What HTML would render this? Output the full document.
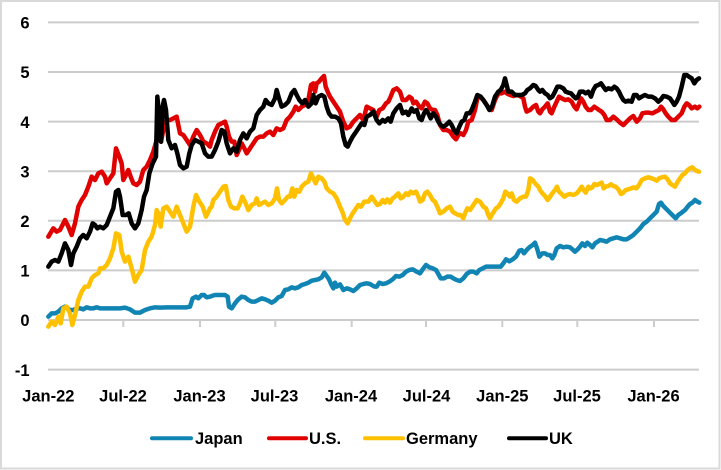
<!DOCTYPE html>
<html><head><meta charset="utf-8"><style>
html,body{margin:0;padding:0;background:#fff;}
svg{display:block;}
text{font-family:"Liberation Sans",Arial,sans-serif;font-weight:bold;font-size:16.5px;fill:#000;}
</style></head><body>
<svg width="721" height="470" viewBox="0 0 721 470" xmlns="http://www.w3.org/2000/svg">
<rect x="0" y="0" width="721" height="470" fill="#fff"/>
<rect x="1" y="1" width="718.5" height="467.5" fill="none" stroke="#d9d9d9" stroke-width="2"/>
<g stroke="#cccccc" stroke-width="2">
<line x1="48" y1="22.4" x2="699" y2="22.4"/>
<line x1="48" y1="72" x2="699" y2="72"/>
<line x1="48" y1="121.6" x2="699" y2="121.6"/>
<line x1="48" y1="171.2" x2="699" y2="171.2"/>
<line x1="48" y1="220.8" x2="699" y2="220.8"/>
<line x1="48" y1="270.4" x2="699" y2="270.4"/>
<line x1="48" y1="369.6" x2="699" y2="369.6"/>
<line x1="48" y1="320" x2="699" y2="320"/>
<line x1="123.3" y1="320" x2="123.3" y2="327"/>
<line x1="200" y1="320" x2="200" y2="327"/>
<line x1="275.3" y1="320" x2="275.3" y2="327"/>
<line x1="351.7" y1="320" x2="351.7" y2="327"/>
<line x1="426" y1="320" x2="426" y2="327"/>
<line x1="502.3" y1="320" x2="502.3" y2="327"/>
<line x1="577.3" y1="320" x2="577.3" y2="327"/>
<line x1="654" y1="320" x2="654" y2="327"/>
</g>
<g text-anchor="end">
<text x="29.5" y="28.6">6</text>
<text x="29.5" y="78.2">5</text>
<text x="29.5" y="127.8">4</text>
<text x="29.5" y="177.4">3</text>
<text x="29.5" y="227">2</text>
<text x="29.5" y="276.6">1</text>
<text x="29.5" y="326.2">0</text>
<text x="29.5" y="375.8">-1</text>
</g>
<g text-anchor="middle">
<text x="48.3" y="401.5">Jan-22</text>
<text x="123" y="401.5">Jul-22</text>
<text x="199.5" y="401.5">Jan-23</text>
<text x="274.5" y="401.5">Jul-23</text>
<text x="351" y="401.5">Jan-24</text>
<text x="426.5" y="401.5">Jul-24</text>
<text x="502.3" y="401.5">Jan-25</text>
<text x="577" y="401.5">Jul-25</text>
<text x="653.5" y="401.5">Jan-26</text>
</g>
<g fill="none" stroke-width="13.5" stroke-linejoin="round" stroke-linecap="round" transform="translate(40,60) scale(0.333333)">
<polyline stroke="#1085b4" points="25,770 35,760 45,760 55,755 65,745 75,740 90,750 100,750 110,745 120,745 130,748 140,742 150,745 160,745 170,742 180,745 200,745 220,745 240,745 255,743 270,748 285,758 300,758 315,750 330,745 345,742 360,743 380,742 400,742 420,742 440,742 450,740 458,715 468,710 475,715 485,705 492,705 500,712 510,710 515,708 525,705 535,705 545,705 555,705 563,710 567,740 575,745 585,730 595,718 605,710 615,712 625,720 635,725 645,725 655,720 665,715 675,718 685,722 695,728 705,722 715,712 725,708 735,690 745,688 755,682 765,685 775,682 785,675 795,672 805,668 815,662 825,660 835,658 845,652 853,638 860,648 867,658 873,672 880,685 885,668 890,680 900,673 910,690 920,685 930,688 940,693 950,685 960,675 970,672 980,670 990,672 1000,678 1005,680 1010,680 1018,668 1028,672 1038,670 1048,665 1058,658 1068,648 1078,650 1088,645 1098,635 1108,630 1118,628 1130,635 1140,640 1148,628 1158,615 1168,622 1178,625 1188,630 1195,642 1202,655 1212,655 1222,650 1232,650 1240,655 1250,660 1260,663 1270,655 1280,642 1290,635 1300,635 1310,640 1318,630 1328,625 1338,620 1348,620 1360,620 1370,620 1382,620 1390,610 1398,598 1408,604 1418,598 1428,590 1438,572 1445,570 1452,580 1460,570 1468,562 1478,555 1485,548 1492,568 1498,590 1507,580 1515,580 1523,585 1530,585 1537,595 1543,585 1550,565 1560,558 1570,562 1580,560 1590,562 1597,568 1605,575 1613,568 1620,560 1627,550 1635,558 1642,548 1650,555 1657,562 1665,550 1673,545 1680,540 1690,542 1700,545 1710,538 1720,535 1730,532 1740,535 1750,538 1760,538 1770,532 1780,525 1790,515 1800,505 1810,492 1820,485 1830,475 1840,465 1850,455 1857,432 1863,428 1870,438 1880,448 1890,458 1900,468 1907,475 1915,465 1925,458 1935,450 1943,440 1950,432 1957,428 1965,420 1972,425 1978,428"/>
<polyline stroke="#e00000" points="25,530 40,505 50,515 60,510 75,480 85,500 95,525 105,490 115,440 125,420 135,405 145,380 155,350 165,360 175,340 185,335 195,350 200,370 210,355 220,340 228,265 238,290 245,310 250,360 258,345 265,330 272,350 280,370 290,375 300,365 310,330 320,320 330,300 340,275 350,240 358,215 363,245 370,210 380,180 390,180 400,175 410,170 420,220 430,225 440,240 450,255 460,230 470,210 480,225 490,245 500,250 510,260 515,240 525,215 535,195 545,190 555,185 560,200 567,230 575,245 583,245 590,285 597,270 605,250 613,265 620,280 630,265 640,250 650,235 660,230 670,230 680,220 690,215 700,225 710,205 720,210 730,205 740,180 750,170 760,155 767,140 775,150 785,140 795,135 805,120 813,75 820,70 825,95 830,70 837,65 845,55 852,48 857,80 863,95 870,110 880,125 890,140 900,155 910,185 920,205 930,200 940,185 950,175 960,165 970,180 980,140 990,145 1000,150 1010,170 1018,150 1028,145 1038,130 1045,125 1052,110 1060,90 1070,85 1080,95 1088,120 1098,120 1108,110 1115,115 1120,130 1128,125 1138,140 1145,145 1155,125 1162,130 1170,145 1178,150 1185,150 1192,165 1200,195 1210,210 1220,210 1230,215 1240,230 1248,238 1255,225 1262,220 1270,225 1278,210 1285,185 1295,180 1305,150 1312,115 1320,110 1330,120 1340,135 1348,145 1355,150 1365,120 1375,100 1385,100 1395,95 1400,100 1410,105 1420,108 1430,105 1440,108 1450,115 1455,140 1460,155 1470,150 1480,140 1488,135 1495,155 1500,160 1507,148 1515,140 1523,130 1530,155 1535,160 1543,140 1550,125 1557,110 1565,115 1575,120 1585,118 1595,125 1603,140 1610,148 1617,130 1623,115 1630,125 1637,140 1645,150 1653,150 1663,140 1670,145 1677,150 1685,155 1693,165 1700,180 1710,180 1720,170 1730,178 1740,188 1750,195 1760,185 1770,175 1780,168 1790,185 1800,175 1807,160 1817,158 1827,158 1837,160 1847,155 1857,150 1863,140 1870,148 1877,160 1885,170 1895,180 1905,180 1915,170 1925,160 1933,140 1940,130 1947,135 1955,145 1965,140 1972,145 1978,140"/>
<polyline stroke="#ffc000" points="25,800 35,785 45,795 55,770 62,790 70,745 80,740 90,760 97,795 105,765 115,720 125,695 135,680 145,680 155,655 165,645 175,640 180,625 190,625 200,615 210,595 220,565 228,520 238,525 245,575 255,605 265,590 275,625 285,665 295,645 305,630 315,570 325,545 335,530 345,495 350,450 355,460 362,500 370,445 380,440 390,455 400,470 410,440 420,465 430,490 440,515 450,500 460,440 468,405 478,425 488,440 498,470 510,445 515,440 520,420 530,410 540,395 550,380 557,378 565,420 573,440 583,445 593,445 600,430 607,410 615,425 625,450 635,435 645,430 650,415 657,435 665,430 675,425 685,435 695,430 705,415 711,385 717,420 725,430 735,420 743,410 750,410 757,385 763,410 770,390 778,395 785,380 795,370 805,365 813,340 820,355 827,370 835,350 845,355 853,365 860,385 870,395 880,400 890,415 900,440 907,455 915,480 923,490 930,475 938,460 945,450 955,435 963,440 973,425 985,425 995,410 1005,425 1012,435 1020,432 1028,420 1035,428 1042,418 1050,428 1058,415 1065,410 1075,400 1082,415 1090,410 1098,400 1105,405 1112,395 1120,400 1128,395 1135,410 1140,425 1148,420 1155,400 1162,395 1170,405 1178,420 1185,425 1192,440 1200,460 1210,455 1220,445 1230,440 1238,455 1245,460 1255,465 1262,465 1270,475 1275,460 1282,445 1290,450 1300,435 1310,420 1320,425 1330,440 1338,445 1345,465 1350,475 1358,460 1368,445 1375,440 1382,430 1390,415 1396,395 1402,400 1410,410 1415,400 1422,420 1430,425 1440,415 1450,410 1458,410 1465,390 1470,355 1478,360 1485,370 1495,380 1500,390 1507,400 1515,408 1523,420 1530,410 1537,400 1545,390 1551,380 1557,395 1565,402 1573,410 1580,405 1590,402 1600,405 1610,400 1617,392 1625,380 1631,390 1637,398 1645,380 1651,385 1657,382 1663,372 1670,375 1677,372 1685,368 1691,385 1697,380 1705,378 1713,373 1720,378 1727,380 1735,388 1743,402 1750,398 1757,390 1765,388 1773,385 1781,382 1789,385 1797,375 1805,360 1815,355 1825,352 1835,355 1843,358 1850,362 1857,355 1865,352 1875,350 1883,358 1890,370 1897,375 1905,380 1913,365 1920,355 1927,345 1935,340 1943,330 1950,325 1957,322 1963,328 1970,333 1977,335"/>
<polyline stroke="#000000" points="25,620 35,605 45,600 55,605 65,580 75,550 85,570 93,615 100,580 110,560 120,535 130,525 140,535 150,515 158,490 165,495 172,505 180,500 190,505 200,495 210,470 220,445 228,395 235,390 240,410 248,465 258,465 266,460 275,490 285,505 295,490 305,450 312,410 320,390 328,340 338,310 348,290 352,110 358,170 363,245 368,140 372,120 378,150 385,240 395,265 405,255 412,280 420,315 430,325 440,320 448,280 455,255 465,240 475,245 485,250 495,280 505,290 515,290 525,270 535,245 545,210 553,215 560,250 570,280 580,265 590,275 600,240 610,220 620,235 630,215 640,205 650,165 660,150 670,140 677,120 685,130 695,135 705,115 710,90 717,115 725,140 735,135 745,125 755,100 763,90 770,105 778,120 787,130 795,120 805,140 815,130 820,105 827,130 835,110 845,105 853,110 860,140 867,160 875,170 885,170 895,175 903,190 910,230 917,255 923,260 930,245 938,230 945,220 955,205 965,190 973,195 980,170 990,165 1000,155 1010,180 1018,190 1028,180 1035,185 1045,175 1052,185 1060,160 1070,145 1080,135 1088,160 1098,155 1105,165 1115,145 1122,155 1130,150 1138,175 1145,180 1152,160 1158,150 1165,160 1172,175 1180,160 1188,170 1195,185 1202,195 1210,200 1218,195 1228,185 1235,195 1242,210 1250,220 1258,200 1265,185 1273,180 1280,160 1288,160 1295,150 1305,125 1312,105 1322,110 1330,120 1340,135 1348,150 1356,140 1365,110 1375,95 1382,90 1390,75 1395,55 1400,75 1405,95 1415,95 1425,105 1435,105 1445,105 1455,100 1462,90 1470,85 1480,75 1487,78 1495,90 1500,95 1507,90 1515,100 1523,105 1530,115 1537,110 1545,95 1552,80 1560,80 1570,85 1577,95 1585,98 1593,100 1600,108 1607,115 1613,112 1620,95 1630,95 1637,100 1645,95 1653,110 1660,90 1667,78 1675,75 1683,70 1690,80 1697,90 1705,85 1715,88 1723,80 1730,85 1737,95 1743,108 1750,120 1757,125 1765,122 1775,125 1782,105 1790,105 1797,115 1805,110 1815,105 1825,110 1835,110 1845,115 1855,125 1863,118 1870,108 1880,110 1890,115 1897,125 1903,135 1910,125 1917,110 1925,80 1933,45 1940,45 1947,50 1955,55 1963,70 1970,60 1977,55"/>
</g>
<g stroke-width="4" stroke-linecap="round">
<line x1="152" y1="438.3" x2="191" y2="438.3" stroke="#1085b4"/>
<line x1="269" y1="438.3" x2="306" y2="438.3" stroke="#e00000"/>
<line x1="365" y1="438.3" x2="403" y2="438.3" stroke="#ffc000"/>
<line x1="509" y1="438.3" x2="546" y2="438.3" stroke="#000000"/>
</g>
<text x="195" y="444">Japan</text>
<text x="309" y="444">U.S.</text>
<text x="406" y="444">Germany</text>
<text x="549" y="444">UK</text>
</svg>
</body></html>
